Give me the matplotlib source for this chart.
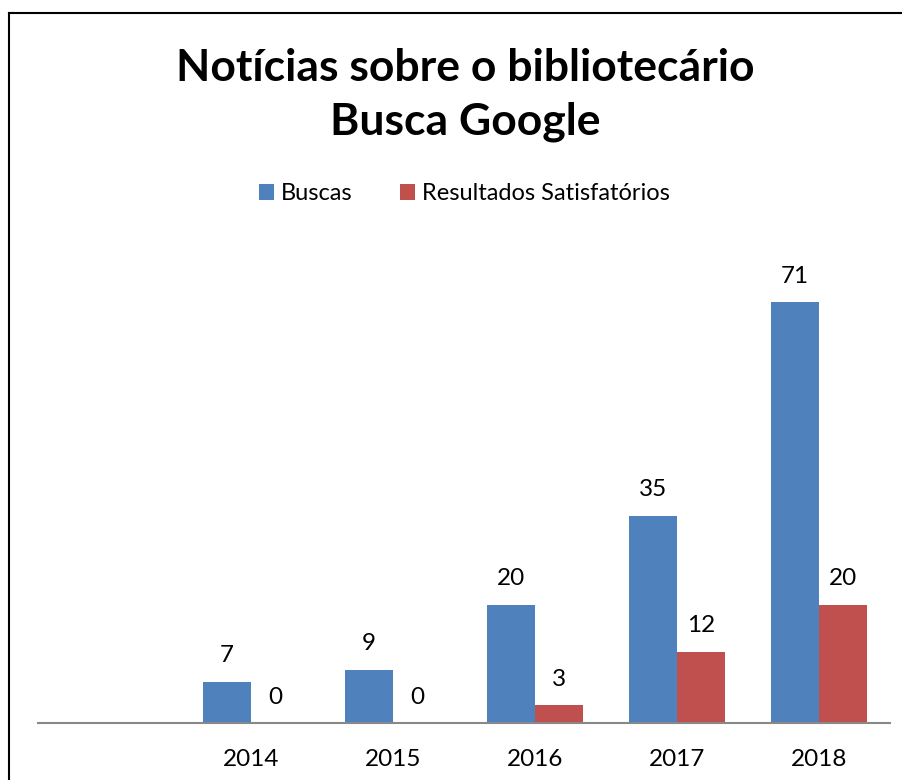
import matplotlib.pyplot as plt
import numpy as np

years = ['', '2014', '2015', '2016', '2017', '2018']
buscas = [None, 7, 9, 20, 35, 71]
satisf = [None, 0, 0, 3, 12, 20]

blue = '#4f81bd'
red = '#c0504d'
plt.rcParams['font.family'] = ['Lato', 'DejaVu Sans']

fig = plt.figure(figsize=(9.02, 7.8), dpi=100)
ax = fig.add_axes([38 / 902, 57 / 780, 852 / 902, 474 / 780])

x = np.arange(len(years))
w = 0.338
for i in range(len(years)):
    if buscas[i] is None:
        continue
    ax.bar(x[i] - w / 2, buscas[i], w, color=blue, label='Buscas' if i == 1 else None)
    ax.bar(x[i] + w / 2, satisf[i], w, color=red,
           label='Resultados Satisfatórios' if i == 1 else None)
    ax.text(x[i] - w / 2, buscas[i] + 2.6, str(buscas[i]), ha='center', va='bottom', fontsize=17.5)
    ax.text(x[i] + w / 2, satisf[i] + 2.6, str(satisf[i]), ha='center', va='bottom', fontsize=17.5)

ax.set_xlim(-0.5, len(years) - 0.5)
ax.set_ylim(0, 80)
ax.set_xticks(x)
ax.set_xticklabels(years, fontsize=17.5)
ax.tick_params(axis='x', length=0, pad=19)
ax.set_yticks([])
for s in ['top', 'right', 'left']:
    ax.spines[s].set_visible(False)
ax.spines['bottom'].set_color('#888888')
ax.spines['bottom'].set_linewidth(1.5)

fig.text(0.516, 1 - 95 / 780, 'Notícias sobre o bibliotecário\nBusca Google',
         ha='center', va='center', fontsize=32, fontweight='bold', linespacing=1.42)

ax.legend(loc='center', bbox_to_anchor=(0.515, 1 - 194 / 780), bbox_transform=fig.transFigure,
          ncol=2, frameon=False, fontsize=17, handlelength=0.65, handleheight=0.65,
          handletextpad=0.3, columnspacing=2.0)

# frame around the chart area (cut off at right and bottom)
fig.add_artist(plt.Line2D([9 / 902, 9 / 902], [0, 1 - 13 / 780], color='black', lw=1.5,
                          transform=fig.transFigure))
fig.add_artist(plt.Line2D([9 / 902, 1], [1 - 13 / 780, 1 - 13 / 780], color='black', lw=1.5,
                          transform=fig.transFigure))

fig.savefig('out.png', dpi=100)
